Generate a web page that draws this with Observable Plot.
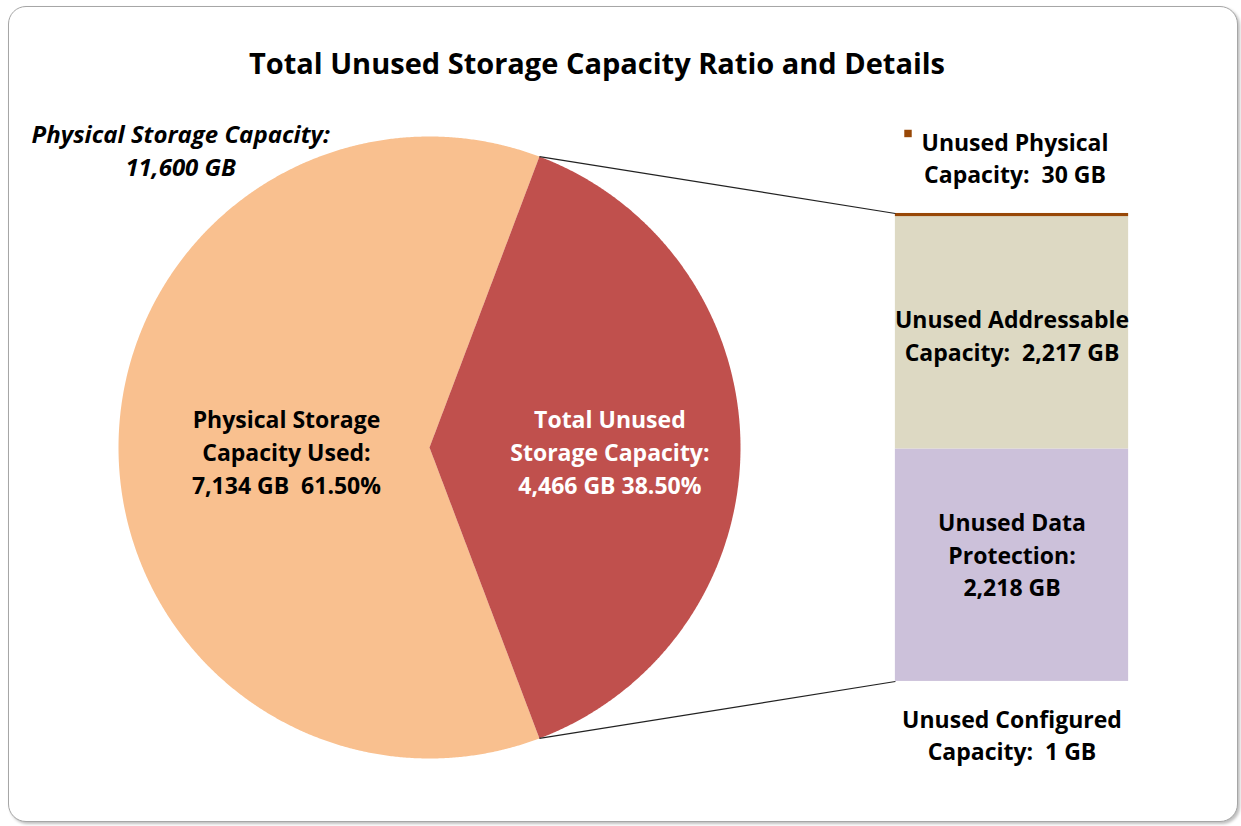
<!DOCTYPE html>
<html>
<head>
<meta charset="utf-8">
<script src="https://cdn.jsdelivr.net/npm/d3@7"></script>
<script src="https://cdn.jsdelivr.net/npm/@observablehq/plot@0.6"></script>
<style>
  html, body { margin: 0; padding: 0; background: #fff; overflow: hidden; }
  #wrap { position: relative; width: 1241px; height: 826px; font-family: "Open Sans", Lato, sans-serif; }
  #frame { position: absolute; left: 8px; top: 6px; width: 1228px; height: 814px; border: 1.5px solid #a6a6a6; border-radius: 18px; box-shadow: 2px 2px 3px rgba(0,0,0,0.25); background: #fff; }
  #title { position: absolute; left: 0; top: 44px; width: 1194px; text-align: center; font-size: 29px; font-weight: 700; line-height: 38px; color: #000; margin: 0; }
  #chart { position: absolute; left: 0; top: 95px; }
</style>
</head>
<body>
<div id="wrap">
  <div id="frame"></div>
  <h2 id="title">Total Unused Storage Capacity Ratio and Details</h2>
  <div id="chart"></div>
</div>
<script>
// ---- data ----
const pieCategories = ["Total Unused Storage Capacity", "Physical Storage Capacity Used"];
const pieValues = [4466, 7134];
const pieLabels = ["Total Unused\nStorage Capacity:\n4,466 GB 38.50%", "Physical Storage\nCapacity Used:\n7,134 GB  61.50%"];
const totalLabel = "Physical Storage Capacity:\n11,600 GB";

const barCategories = ["Unused Configured Capacity", "Unused Data Protection", "Unused Addressable Capacity", "Unused Physical Capacity"];
const barValues = [1, 2218, 2217, 30];
const barLabels = ["Unused Configured\nCapacity:  1 GB", "Unused Data\nProtection:\n2,218 GB", "Unused Addressable\nCapacity:  2,217 GB", "Unused Physical\nCapacity:  30 GB"];

// ---- layout ----
const W = 1241, H = 731;
const K = 311;            // pixels per pie radius
const CX = 429, CY = 352; // pie center in svg pixels
const pieColors = ["#C0504D", "#F9C08F"];
const barColors = ["#4F81BD", "#CCC1DA", "#DDD9C3", "#984807"];
const barX1 = 1.498, barX2 = 2.248, barHalf = 0.7525;

// pie geometry from data
const pieTotal = d3.sum(pieValues);
const start = Math.PI / 2 - Math.PI * (pieValues[0] / pieTotal);
const arcs = d3.pie().sort(null).startAngle(start).endAngle(start + 2 * Math.PI)(pieValues);
const slicePoints = arcs.map((a, i) => {
  const pts = [{x: 0, y: 0}];
  const n = Math.ceil((a.endAngle - a.startAngle) / 0.005);
  for (let j = 0; j <= n; j++) {
    const t = a.startAngle + (a.endAngle - a.startAngle) * j / n;
    pts.push({x: Math.sin(t), y: Math.cos(t)});
  }
  pts.push({x: 0, y: 0});
  return pts;
});

// bar geometry from data
const barTotal = d3.sum(barValues);
const scaleGB = (2 * barHalf) / barTotal;
let acc = 0;
const barData = barValues.map((v, i) => {
  const y1 = -barHalf + acc * scaleGB;
  acc += v;
  const y2 = -barHalf + acc * scaleGB;
  return {cat: barCategories[i], v, y1, y2, mid: (y1 + y2) / 2, label: barLabels[i], color: barColors[i]};
});

// connectors: unused slice edges to bar corners
const ua = arcs[0];
const links = [
  {x1: Math.sin(ua.startAngle), y1: Math.cos(ua.startAngle), x2: barX1, y2: barHalf},
  {x1: Math.sin(ua.endAngle), y1: Math.cos(ua.endAngle), x2: barX1, y2: -barHalf}
];

const midA = arcs.map(a => (a.startAngle + a.endAngle) / 2);
const pieLabelData = [
  {x: 0.58 * Math.sin(midA[0]), y: 0.58 * Math.cos(midA[0]), text: pieLabels[0], fill: "#fff"},
  {x: 0.46 * Math.sin(midA[1]), y: 0.46 * Math.cos(midA[1]), text: pieLabels[1], fill: "#000"}
];
const barMidX = (barX1 + barX2) / 2;

const font = "'Open Sans', Lato, sans-serif";
const fs = 23;
const lh = 1.42;

const plot = Plot.plot({
  width: W, height: H,
  margin: 0,
  x: {domain: [-CX / K, (W - CX) / K], axis: null},
  y: {domain: [-(H - CY) / K, CY / K], axis: null},
  style: {background: "transparent", fontFamily: font},
  marks: [
    Plot.line(slicePoints[1], {x: "x", y: "y", fill: pieColors[1], stroke: "none"}),
    Plot.line(slicePoints[0], {x: "x", y: "y", fill: pieColors[0], stroke: "none"}),
    Plot.rect(barData.slice(1, 3), {x1: barX1, x2: barX2, y1: "y1", y2: "y2", fill: "color"}),
    Plot.rect(barData.filter(d => d.cat === "Unused Physical Capacity"), {x1: barX1, x2: barX2, y1: "y1", y2: "y2", fill: "color"}),
    Plot.link(links, {x1: "x1", y1: "y1", x2: "x2", y2: "y2", stroke: "#222", strokeWidth: 1.2}),
    Plot.text(pieLabelData, {x: "x", y: "y", text: "text", fill: "fill", fontSize: fs, fontWeight: 700, lineHeight: lh, dy: 3}),
    Plot.text([barData[2]], {x: barMidX, y: "mid", text: "label", fontSize: fs, fontWeight: 700, lineHeight: lh, dy: 1}),
    Plot.text([barData[1]], {x: barMidX, y: "mid", text: "label", fontSize: fs, fontWeight: 700, lineHeight: lh, dy: -12}),
    Plot.text([barData[3]], {x: barMidX, y: barHalf, text: "label", fontSize: fs, fontWeight: 700, lineHeight: lh, dx: 3, dy: -57}),
    Plot.dot([barData[3]], {x: barMidX, y: barHalf, symbol: "square", r: 4.2, fill: "color", stroke: "none", dx: -104, dy: -80}),
    Plot.text([barData[0]], {x: barMidX, y: -barHalf, text: "label", fontSize: fs, fontWeight: 700, lineHeight: lh, dy: 52}),
    Plot.text([totalLabel], {x: -0.8, y: 0.955, text: d => d, fontSize: 24, fontWeight: 700, fontStyle: "italic", lineHeight: 1.38, dy: -2})
  ]
});
document.getElementById("chart").appendChild(plot);
</script>
</body>
</html>
